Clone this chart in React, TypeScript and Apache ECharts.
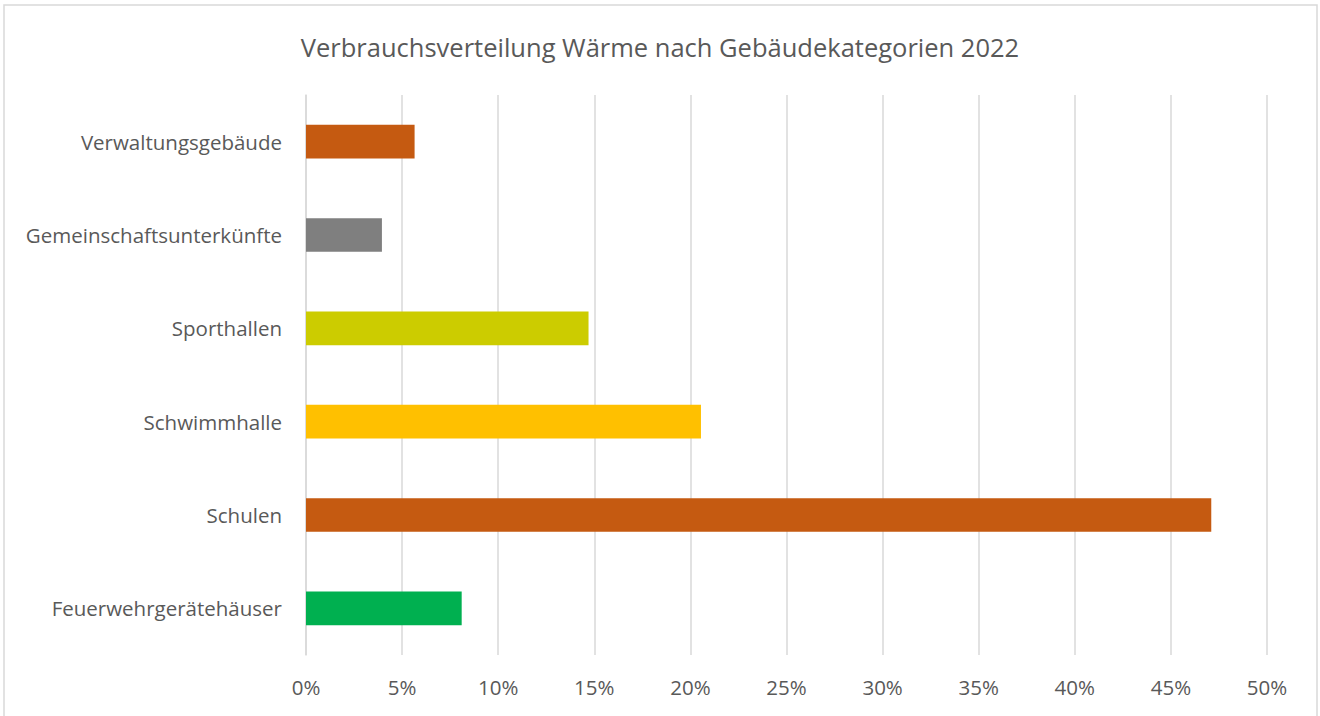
import React, { useEffect, useRef } from "react";
import * as echarts from "echarts";

const categories = [
  "Feuerwehrgerätehäuser",
  "Schulen",
  "Schwimmhalle",
  "Sporthallen",
  "Gemeinschaftsunterkünfte",
  "Verwaltungsgebäude",
];
const values = [8.1, 47.1, 20.55, 14.7, 3.95, 5.65];
const barColors = ["#00B050", "#C55A11", "#FFC000", "#CCCC00", "#7F7F7F", "#C55A11"];
const titleText = "Verbrauchsverteilung Wärme nach Gebäudekategorien 2022";

export default function App() {
  const ref = useRef<HTMLDivElement>(null);
  useEffect(() => {
    if (!ref.current) return;
    const chart = echarts.init(ref.current, null, { renderer: "svg" });
    chart.setOption({
      animation: false,
      backgroundColor: "#ffffff",
      title: {
        text: titleText,
        left: "center",
        top: 29,
        textStyle: {
          fontFamily: "Open Sans",
          fontSize: 25.5,
          fontWeight: "normal",
          color: "#595959",
        },
      },
      graphic: [
        {
          type: "rect",
          shape: { x: 4, y: 5, width: 1313, height: 720 },
          style: { fill: "none", stroke: "#D9D9D9", lineWidth: 1.5 },
          silent: true,
        },
      ],
      grid: { left: 306, right: 53, top: 95, bottom: 61, containLabel: false },
      xAxis: {
        type: "value",
        min: 0,
        max: 50,
        interval: 5,
        axisLine: { show: false },
        axisTick: { show: false },
        splitLine: { show: true, lineStyle: { color: "#D9D9D9", width: 1.5 } },
        axisLabel: {
          formatter: "{value}%",
          color: "#595959",
          fontFamily: "Open Sans",
          fontSize: 20.5,
          margin: 21,
        },
      },
      yAxis: {
        type: "category",
        data: categories,
        axisLine: { show: true, lineStyle: { color: "#D9D9D9", width: 1.5 } },
        axisTick: { show: false },
        axisLabel: {
          color: "#595959",
          fontFamily: "Open Sans",
          fontSize: 20.5,
          margin: 24,
        },
      },
      series: [
        {
          type: "bar",
          data: values.map((v, i) => ({ value: v, itemStyle: { color: barColors[i] } })),
          barCategoryGap: "64%",
        },
      ],
    });
    return () => chart.dispose();
  }, []);
  return (
    <div
      ref={ref}
      style={{ position: "fixed", left: 0, top: 0, width: 1320, height: 716 }}
    />
  );
}
